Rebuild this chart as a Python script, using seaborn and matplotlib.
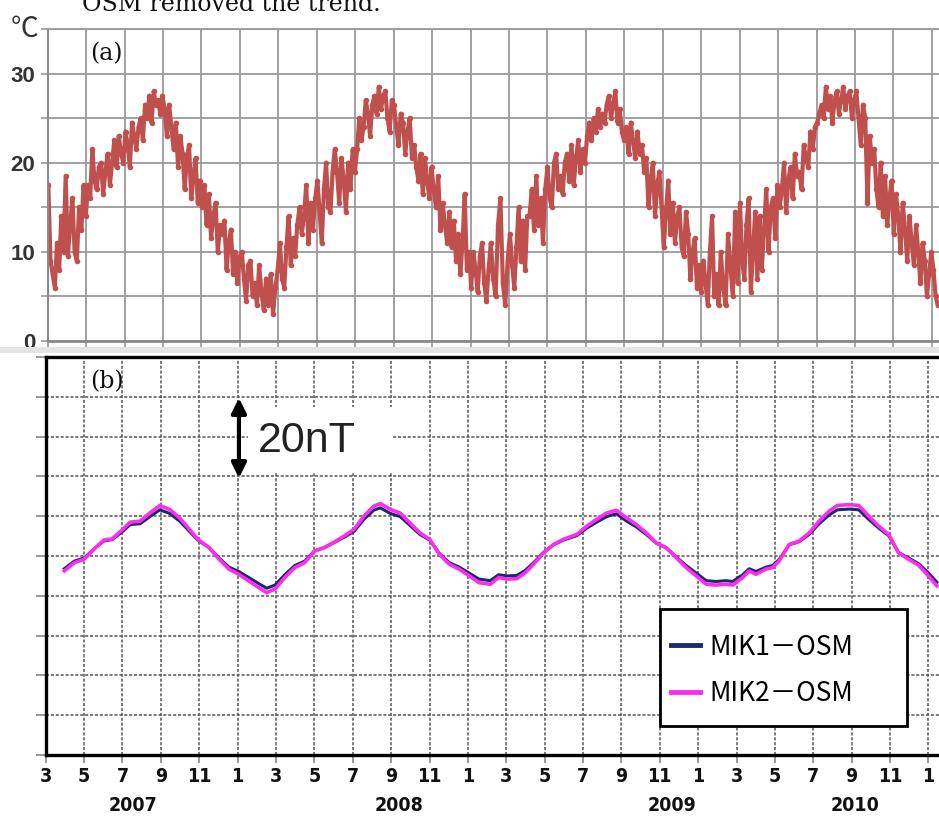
import numpy as np
import pandas as pd
import matplotlib
matplotlib.use("Agg")
import matplotlib.pyplot as plt
from matplotlib import font_manager as fm
import seaborn as sns
from matplotlib.patches import Rectangle

# ---------------- data ----------------
# (a) water temperature (deg C), one reading every 3.5 days from 2007-03-02
temps = [
    17.5, 9, 7.5, 6, 11, 8, 14, 10, 18.5,                 # Mar 2007
    9.5, 13, 16, 10, 9, 15, 12.5, 17.5, 14,               # Apr
    17.5, 16, 21.5, 18, 17, 19.5, 20, 16.5,               # May
    19, 21, 17.5, 20, 22.5, 19.5, 23, 21, 20,             # Jun
    23.5, 22, 19.5, 24.5, 23, 21.5, 24, 25, 22.5,         # Jul
    26.5, 25, 27.5, 24.5, 28, 26.5, 27, 25.5, 27.5,       # Aug
    26, 23, 26.5, 24, 21.5, 24.5, 19.5, 23,               # Sep
    21, 17, 20.5, 22, 16, 18.5, 20.5, 15.5, 18,           # Oct
    15, 17.5, 13, 16.5, 11.5, 14, 15.5, 10, 13,           # Nov
    12, 13.5, 8, 11, 12.5, 7.5, 10, 6.5, 9.5,             # Dec
    10, 7, 4.5, 8.5, 9, 5, 6.5, 4,                        # Jan 2008
    8.5, 5.5, 3.5, 7, 4, 7.5, 3, 6, 8,                    # Feb
    11, 7, 6, 10.5, 14, 8.5, 11.5, 9.5, 13,               # Mar
    15, 12, 14, 17.5, 11, 15.5, 12.5, 16,                 # Apr
    18, 14.5, 11, 17, 20, 15, 14.5, 19, 21.5,             # May
    19, 15.5, 20.5, 18, 14.5, 20, 17, 21.5, 19,           # Jun
    21.5, 25, 22.5, 24, 27, 25.5, 23, 26.5,               # Jul
    27.5, 25.5, 28.5, 26, 27.5, 28, 25, 23.5, 27,         # Aug
    26.5, 24, 22, 25.5, 24.5, 21, 23.5, 25, 20.5,         # Sep
    22, 19.5, 18, 21, 16.5, 20.5, 18, 16, 19.5,           # Oct
    17, 15, 18.5, 12.5, 15.5, 13, 11, 14.5,               # Nov
    10.5, 13.5, 9, 12, 7.5, 11, 16.5, 8, 10,              # Dec
    6, 10, 8, 5.5, 9.5, 11, 6.5, 4.5, 8,                  # Jan 2009
    11, 7, 5, 13, 16, 6.5, 4, 9,                          # Feb
    12, 8.5, 6, 10.5, 15, 9, 13.5, 8, 14,                 # Mar
    14, 17, 12.5, 18.5, 13, 16, 11, 17,                   # Apr
    19.5, 16, 15, 20, 21, 17, 18.5, 16.5, 20,             # May
    21, 18, 22, 17.5, 20.5, 22.5, 19, 21.5, 20,           # Jun
    23, 24.5, 22.5, 25, 23.5, 26, 24, 25.5, 24.5,         # Jul
    26.5, 27.5, 25, 26.5, 28, 24.5, 26, 23.5, 22.5,       # Aug
    24, 21, 24.5, 22.5, 20.5, 23.5, 21, 22,               # Sep
    19, 20.5, 15, 18, 20, 14, 17.5, 19, 15,               # Oct
    10.5, 14.5, 18, 12, 15.5, 11, 14, 15, 10.5,           # Nov
    9.5, 14.5, 12, 7, 10, 11.5, 6, 8.5,                   # Dec
    5.5, 9, 6.5, 4, 10, 14, 5, 7.5, 4,                    # Jan 2010
    10, 6, 4, 12, 8.5, 5, 14.5, 6.5,                      # Feb
    15.5, 9, 7, 13, 16, 5.5, 10, 14.5, 7,                 # Mar
    14, 8, 12.5, 17, 10, 15, 16, 11.5, 17.5,              # Apr
    15, 17, 20, 14.5, 18, 19.5, 16, 21, 18.5,             # May
    19, 17, 22, 20.5, 19.5, 23.5, 21.5, 24,               # Jun
    24.5, 25.5, 26.5, 25, 28.5, 26, 27.5, 24.5, 27,       # Jul
    28, 25.5, 27, 28.5, 26, 27.5, 28, 25, 27,             # Aug
    28, 25, 22, 26.5, 25, 15.5, 23, 20,                   # Sep
    21.5, 17, 15, 20, 14, 18.5, 13, 16, 18,               # Oct
    12, 16.5, 14, 10, 15.5, 12.5, 9, 14, 11,              # Nov
    8.5, 13, 10, 6.5, 11, 9, 5, 7.5, 10,                  # Dec
    8, 5, 4,                                              # Jan 2011
]
temp_start = "2007-03-02"
temp_step = "84h"

# (b) geomagnetic differences (nT); time in months since 2007-03-01
mag_months = [0.97, 1.49, 2.0, 2.51, 3.03, 3.46, 4.02, 4.40, 4.92,
              5.43, 5.95, 6.46, 6.97, 7.49, 7.92, 8.52, 9.03, 9.55,
              10.06, 10.58, 11.09, 11.52, 11.95, 12.46, 12.98, 13.49, 14.01, 14.52,
              15.04, 15.55, 16.07, 16.58, 17.09, 17.44, 17.95, 18.47, 18.98, 19.50,
              20.01, 20.52, 21.04, 21.55, 22.07, 22.58, 23.17, 23.6,
              24.03, 24.55, 24.99, 25.42, 25.94, 26.46, 26.98, 27.67, 28.19,
              28.71, 29.23, 29.74, 30.26, 30.78, 31.3, 31.82, 32.33, 32.85,
              33.38, 33.9, 34.42, 34.93, 35.45, 35.8, 36.32, 36.66, 37.01,
              37.53, 37.88, 38.22, 38.74, 39.26, 39.78, 40.3, 40.82, 41.25,
              41.86, 42.37, 42.89, 43.41, 43.93, 44.44, 44.96, 45.48, 46.0, 46.44]
mik2_osm = [46.25, 48.3, 49.2, 51.7, 54.0, 54.3, 56.7, 58.5, 58.75,
            60.8, 62.7, 61.7, 59.6, 56.7, 54.2, 52.1, 49.2, 46.7,
            45.4, 43.75, 42.1, 40.8, 41.7, 44.6, 47.1, 48.3, 51.25, 52.1,
            53.5, 55.0, 56.7, 60.0, 62.5, 63.2, 61.7, 60.8, 58.3, 55.8,
            54.2, 50.4, 47.9, 46.7, 45.0, 43.3, 42.9, 44.6,
            44.2, 44.3, 45.8, 47.9, 50.8, 52.9, 54.2, 55.4, 57.5,
            59.2, 60.8, 61.5, 59.6, 57.9, 55.8, 53.3, 52.1, 49.6,
            47.1, 45.0, 42.9, 42.7, 42.9, 42.7, 44.6, 46.25, 45.4,
            46.7, 47.1, 48.75, 52.9, 53.75, 55.8, 58.75, 61.25, 62.7,
            62.9, 62.7, 60.0, 57.5, 55.4, 50.8, 49.2, 47.7, 45.0, 42.5]
mik1_osm = [46.8, 48.7, 49.5, 51.7, 53.8, 54.1, 56.2, 57.9, 58.1,
            59.9, 61.6, 60.7, 58.8, 56.2, 54.0, 52.1, 49.5, 47.2,
            46.1, 44.6, 43.1, 41.9, 42.7, 45.3, 47.6, 48.7, 51.3, 52.1,
            53.4, 54.7, 56.2, 59.2, 61.5, 62.1, 60.7, 59.9, 57.7, 55.4,
            54.0, 50.6, 48.3, 47.2, 45.7, 44.2, 43.8, 45.3,
            45.0, 45.1, 46.4, 48.3, 50.9, 52.8, 54.0, 55.1, 57.0,
            58.5, 59.9, 60.6, 58.8, 57.3, 55.4, 53.2, 52.1, 49.8,
            47.6, 45.7, 43.8, 43.6, 43.8, 43.6, 45.3, 46.8, 46.1,
            47.2, 47.6, 49.1, 52.8, 53.6, 55.4, 58.1, 60.3, 61.6,
            61.8, 61.6, 59.2, 57.0, 55.1, 50.9, 49.5, 48.1, 45.7, 43.4]
series_names = ["MIK1－OSM", "MIK2－OSM"]

month_tick_labels = ["3", "5", "7", "9", "11", "1", "3", "5", "7", "9", "11", "1",
                     "3", "5", "7", "9", "11", "1", "3", "5", "7", "9", "11", "1"]
year_labels = ["2007", "2008", "2009", "2010"]
temp_tick_labels = ["0", "10", "20", "30"]

# ---------------- derived x ----------------
dates = pd.date_range(temp_start, periods=len(temps), freq=temp_step)
temp_months = ((dates.year - 2007) * 12 + (dates.month - 3)
               + (dates.day - 1 + dates.hour / 24) / dates.days_in_month).to_numpy()
df_t = pd.DataFrame({"month": temp_months, "temp": temps})
df_m = pd.DataFrame({"month": mag_months, "MIK1": mik1_osm, "MIK2": mik2_osm})

# ---------------- fonts ----------------
names = {f.name for f in fm.fontManager.ttflist}
cond_dejavu = any(f.name == "DejaVu Sans" and str(f.stretch) in ("condensed", "semi-condensed")
                  for f in fm.fontManager.ttflist)
if "Liberation Sans Narrow" in names:
    tick_font = dict(family="Liberation Sans Narrow", fontweight="bold", fontsize=15)
elif cond_dejavu:
    tick_font = dict(family="DejaVu Sans", fontstretch="condensed", fontweight="bold", fontsize=14)
else:
    tick_font = dict(family="Liberation Sans", fontweight="bold", fontsize=14)

# ---------------- figure ----------------
W, H = 939, 817
fig = plt.figure(figsize=(W / 100, H / 100), dpi=100)

def fx(px):
    return px / W

def fy(py):
    return 1 - py / H

axa = fig.add_axes([fx(47.7), fy(341), fx(W - 47.7), (341 - 29) / H])
axb = fig.add_axes([fx(45.7), fy(755), fx(W - 45.7), (755 - 357) / H])

# light band between panels
fig.patches.append(Rectangle((0, fy(353)), 1, 6 / H, transform=fig.transFigure,
                             facecolor="#e4e4e4", edgecolor="none", zorder=0))

# ---- panel (a) ----
sns.lineplot(data=df_t, x="month", y="temp", ax=axa, color="#C0504D",
             linewidth=3.0, marker="o", markersize=4, markeredgewidth=0,
             legend=False)
axa.set_xlim(0, 46.37)
axa.set_ylim(0, 35)
axa.set_yticks(np.arange(0, 36, 5))
axa.set_yticklabels([t if t in temp_tick_labels else "" for t in
                     [str(v) for v in range(0, 36, 5)]],
                    fontsize=16, fontweight="bold", color="#333333",
                    family=["Liberation Sans", "DejaVu Sans"])
axa.set_xticks(np.arange(0, 47, 2))
axa.set_xticklabels([])
axa.tick_params(axis="both", length=5, color="#999999", width=1.2, pad=4)
axa.grid(True, color="#9a9a9a", linewidth=1.3)
axa.set_axisbelow(True)
axa.spines["right"].set_visible(False)
axa.spines["top"].set_color("#9a9a9a")
axa.spines["top"].set_linewidth(1.3)
axa.spines["left"].set_color("#8a8a8a")
axa.spines["left"].set_linewidth(1.5)
axa.spines["bottom"].set_color("#8a8a8a")
axa.spines["bottom"].set_linewidth(2)
axa.set_xlabel("")
axa.set_ylabel("")

# ---- panel (b) ----
sns.lineplot(data=df_m, x="month", y="MIK1", ax=axb, color="#1a2a6c",
             linewidth=2.2, label=series_names[0], zorder=2)
sns.lineplot(data=df_m, x="month", y="MIK2", ax=axb, color="#FF2CF0",
             linewidth=2.6, label=series_names[1], zorder=3)
axb.set_xlim(0, 46.55)
axb.set_ylim(0, 100)
axb.set_yticks(np.arange(0, 101, 10))
axb.set_yticklabels([])
axb.set_xticks(np.arange(0, 47, 2))
axb.set_xticklabels(month_tick_labels, color="#111111", **tick_font)
axb.tick_params(axis="y", length=7.5, color="#888888", width=1.2)
axb.tick_params(axis="x", length=6, color="#888888", width=1.2, pad=3)
axb.grid(True, color="#555555", linewidth=1.1, linestyle=(0, (2, 1.2)))
axb.set_axisbelow(True)
axb.spines["right"].set_visible(False)
for s in ["left", "top", "bottom"]:
    axb.spines[s].set_color("black")
    axb.spines[s].set_linewidth(2.4)
axb.set_xlabel("")
axb.set_ylabel("")

year_pos = [4.55, 18.41, 32.64, 42.17]
for lab, xp in zip(year_labels, year_pos):
    axb.text(xp, -0.128, lab, transform=axb.get_xaxis_transform(), ha="center",
             va="center", color="#111111", **tick_font)

# 20 nT scale bar
axb.add_patch(Rectangle((10.54, 70.85), 7.51, 16.55, facecolor="white",
                        edgecolor="none", zorder=1.5))
axb.annotate("", xy=(10.07, 89.7), xytext=(10.07, 69.6),
             arrowprops=dict(arrowstyle="<|-|>", color="black", lw=3,
                             mutation_scale=22, shrinkA=0, shrinkB=0),
             zorder=4)
axb.text(11.06, 79.0, "20nT", fontsize=31, va="center", ha="left",
         color="#222222", family=["Liberation Sans", "DejaVu Sans"], zorder=4)

# legend with separate frame
axb.add_patch(Rectangle((0.688, 0.073), 0.276, 0.294, transform=axb.transAxes,
                        facecolor="white", edgecolor="black", linewidth=2,
                        zorder=4.5))
leg = axb.legend(loc="upper left", bbox_to_anchor=(0.700, 0.305),
                 frameon=False, borderpad=0, borderaxespad=0,
                 handlelength=1.1, handletextpad=0.35, labelspacing=0.75,
                 prop={"family": ["Noto Sans CJK JP", "DejaVu Sans"], "size": 19})
leg.set_zorder(5)
for h in leg.legend_handles:
    h.set_linewidth(3.5)

# panel letters, units, caption
fig.text(fx(90), fy(42), "(a)", ha="left", va="top", fontsize=17,
         family="DejaVu Serif", color="#111111")
fig.text(fx(90), fy(370), "(b)", ha="left", va="top", fontsize=17,
         family="DejaVu Serif", color="#111111")
fig.text(fx(11), fy(37), "℃", ha="left", va="baseline", fontsize=20,
         family=["Noto Sans CJK JP", "DejaVu Sans"], color="#333333")
fig.text(fx(82), fy(11), "OSM removed the trend.", ha="left", va="baseline",
         fontsize=17, family="DejaVu Serif", color="#111111")

fig.savefig("out.png", dpi=100, facecolor="white")
